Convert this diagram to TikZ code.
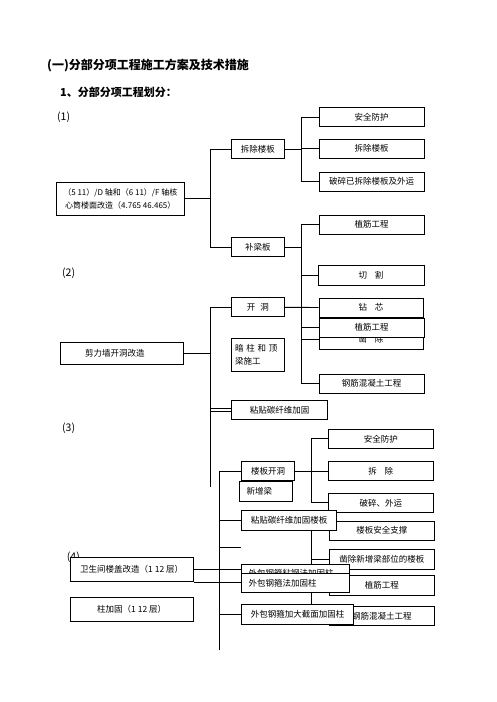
\documentclass[tikz,border=0pt]{standalone}
\usepackage{fontspec}
\setmainfont{Noto Sans CJK SC}
\usetikzlibrary{backgrounds}
\tikzset{
  box/.style={draw, line width=0.9pt, fill=white, inner sep=0pt, minimum height=19pt,
    font=\fontsize{8.5}{13}\selectfont, align=center},
  boxl/.style={box, align=left},
  wire/.style={line width=0.9pt},
  lbl/.style={anchor=west, inner sep=0pt, font=\fontsize{10.5}{12}\selectfont},
}
\begin{document}
\begin{tikzpicture}[x=1pt,y=-1pt]
    \useasboundingbox (0,0) rectangle (496,702);
    %% headings
    \node[anchor=west, inner sep=0pt, font=\fontsize{12}{14}\selectfont\bfseries] (title) at (47,65) {(一)分部分项工程施工方案及技术措施};
    \node[anchor=west, inner sep=0pt, font=\fontsize{11}{13}\selectfont\bfseries] (sub) at (60,92) {1、分部分项工程划分：};
    \node[lbl] (n1) at (57,117) {(1)};
    \node[lbl] (n2) at (62,273) {(2)};
    \node[lbl] (n3) at (62,428) {(3)};
    \node[lbl] (n4) at (66.7,557) {(4)};
    %% bus lines
    \coordinate (bus1) at (210,0);
    \coordinate (bus2) at (301.7,0);
    \coordinate (bus4) at (219.3,0);
    \coordinate (bus5) at (311.7,0);
    \coordinate (end2) at (210,486.7);
    \coordinate (end4) at (219.3,650);
    \coordinate (stub) at (240.7,547.5);
    %% (1) core tube floor
    \node[box, minimum width=127.3pt, minimum height=32.3pt, font=\fontsize{8}{13}\selectfont] (core) at (120.3,198.8) {（5 11）/D 轴和（6 11）/F 轴核\\心筒楼面改造（4.765 46.465）};
    \node[box, minimum width=52.3pt] (slab) at (257.8,149.2) {拆除楼板};
    \node[box, minimum width=52.3pt] (beam) at (257.8,247.3) {补梁板};
    \node[box, minimum width=105pt] (guard) at (371.5,117) {安全防护};
    \node[box, minimum width=105pt] (remove) at (371.5,148.5) {拆除楼板};
    \node[box, minimum width=105pt] (haul) at (371.5,181.5) {破碎已拆除楼板及外运};
    \node[box, minimum width=105pt] (rebar) at (371.5,224.5) {植筋工程};
    %% (2) shear wall
    \node[box, minimum width=106pt, minimum height=20pt] (cut) at (371,275) {切\hspace{0.9em}割};
    \draw[line width=1.8pt] (cut.north east) -- (cut.south east);
    \node[box, minimum width=52.3pt] (open) at (257.8,307.3) {开\hspace{0.6em}洞};
    \node[box, minimum width=104pt] (drill) at (371,307.5) {钻\hspace{0.9em}芯};
    \node[box, minimum width=104pt] (chisel) at (371,339.5) {凿\hspace{0.9em}除};
    \node[box, minimum width=105pt] (rebar2) at (371.5,327.5) {植筋工程};
    \node[boxl, text width=46pt, inner xsep=3.3pt, minimum height=33pt] (hidcol) at (258,354.5) {暗 柱 和 顶\\梁施工};
    \node[boxl, text width=74pt, inner xsep=24.3pt, minimum height=22pt] (wall) at (122,353) {剪力墙开洞改造};
    \node[box, minimum width=105pt] (rc) at (371.5,383.5) {钢筋混凝土工程};
    \node[box, minimum width=95.6pt] (cfrp) at (279.5,410) {粘贴碳纤维加固};
    %% (3) slab opening
    \node[box, minimum width=52.6pt] (slabopen) at (268,471.2) {楼板开洞};
    \node[boxl, text width=38.2pt, inner xsep=7.4pt, minimum height=20pt] (newbeam) at (265.8,491) {新增梁};
    \node[box, minimum width=105pt] (guard3) at (380.8,438.8) {安全防护};
    \node[box, minimum width=105pt] (remove3) at (380.8,471.2) {拆\hspace{0.9em}除};
    \node[box, minimum width=105pt] (haul3) at (380.8,502.8) {破碎、外运};
    \node[box, minimum width=105pt] (prop) at (381.8,530.5) {楼板安全支撑};
    \node[box, minimum width=95pt, minimum height=20pt] (cfrp3) at (289.2,520.7) {粘贴碳纤维加固楼板};
    \node[box, minimum width=105pt, minimum height=19.7pt] (chisel3) at (381.8,559.2) {凿除新增梁部位的楼板};
    %% (4) toilet floor and columns
    \node[box, minimum width=123.3pt, minimum height=24.4pt] (toilet) at (131.7,569.5) {卫生间楼盖改造（1 12 层）};
    \node[boxl, text width=94pt, inner xsep=6.8pt] (bond) at (295.5,573.5) {外包钢箍粘钢法加固柱};
    \node[box, minimum width=105pt, minimum height=20pt] (rebar3) at (381.8,585) {植筋工程};
    \node[boxl, text width=94pt, inner xsep=6.8pt] (jacket) at (295.5,582.8) {外包钢箍法加固柱};
    \node[box, minimum width=105pt] (rc3) at (381.8,616) {钢筋混凝土工程};
    \node[box, minimum width=111.6pt, minimum height=20pt] (enlarge) at (297.5,614.3) {外包钢箍加大截面加固柱};
    \node[box, minimum width=123.3pt, minimum height=23.7pt] (column) at (131.7,609.2) {柱加固（1 12 层）};
    %% connectors
    \begin{scope}[on background layer]
        \draw[wire] (core.east) -- (core.east -| bus1);
        \draw[wire] (slab.west) -- (slab.west -| bus1) -- (beam.west -| bus1) -- (beam.west);
        \draw[wire] (slab.east) -- (slab.east -| bus2);
        \draw[wire] (guard.west) -- (guard.west -| bus2) -- (haul.west -| bus2) -- (haul.west);
        \draw[wire] (remove.west) -- (remove.west -| bus2);
        \draw[wire] (beam.east) -- (beam.east -| bus2);
        \draw[wire] (rebar.west) -- (rebar.west -| bus2) -- (rc.west -| bus2) -- (rc.west);
        \draw[wire] (cut.west) -- (cut.west -| bus2);
        \draw[wire] (open.east) -- (drill.west);
        \draw[wire] (rebar2.west) -- (rebar2.west -| bus2);
        \draw[wire] (chisel.west) -- (chisel.west -| bus2);
        %% shear wall
        \draw[wire, double, double distance=2.4pt] (cfrp.west) -- (cfrp.west -| bus1);
        \draw[wire] (open.west) -- (open.west -| bus1) -- (end2);
        \draw[wire] (wall.east) -- (wall.east -| bus1);
        %% slab and columns
        \draw[wire] (slabopen.west) -- (slabopen.west -| bus4) -- (end4);
        \draw[wire] (cfrp3.west) -- (cfrp3.west -| bus4);
        \draw[wire] (stub) -- (stub -| bus4);
        \draw[wire] (enlarge.west) -- (enlarge.west -| bus4);
        \draw[wire] (toilet.east) -- (toilet.east -| bond.west);
        \draw[wire] (toilet.south east) -- (toilet.south east -| jacket.west);
        \draw[wire] (slabopen.east) -- (slabopen.east -| bus5);
        \draw[wire] (guard3.west) -- (guard3.west -| bus5) -- (haul3.west -| bus5) -- (haul3.west);
        \draw[wire] (remove3.west) -- (remove3.west -| bus5);
        \draw[wire] (cfrp3.south -| bus5) -- (rc3.west -| bus5) -- (rc3.west);
        \draw[wire] (chisel3.west) -- (chisel3.west -| bus5);
        \draw[wire] (rebar3.west) -- (rebar3.west -| bus5);
    \end{scope}
\end{tikzpicture}
\end{document}
